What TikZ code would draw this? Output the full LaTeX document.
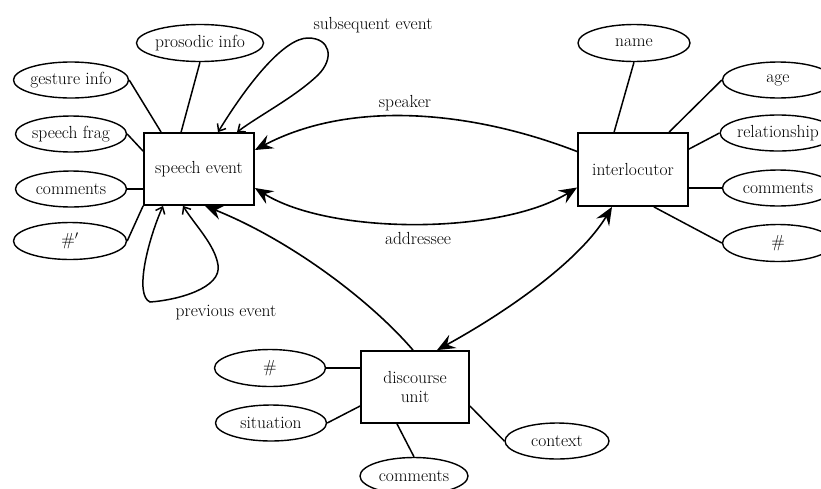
\documentclass[tikz,border=0pt]{standalone}
\usetikzlibrary{arrows.meta,shapes.geometric}
\begin{document}
\begin{tikzpicture}[x=1pt,y=-1pt,
  every node/.style={font=\fontsize{17.5}{19}\selectfont},
  attr/.style={draw, ellipse, line width=1.4pt, minimum width=111pt, minimum height=36pt, inner sep=0pt},
  entity/.style={draw, rectangle, line width=1.8pt, minimum width=110pt, minimum height=72pt, inner sep=0pt, align=center},
  link/.style={line width=1.5pt},
  bighead/.tip={Stealth[length=18pt,width=15pt,inset=6.5pt]},
  smallhead/.tip={Straight Barb[length=6pt,width=10pt]},
  rel/.style={line width=1.6pt, -bighead},
  relboth/.style={line width=1.6pt, bighead-bighead},
  selfloop/.style={line width=1.5pt, smallhead-smallhead},
  lbl/.style={inner sep=0pt}]
\clip (0,0) rectangle (821,488);

% entities
\node[entity] (se) at (199,169) {speech event};
\node[entity, minimum height=73pt] (il) at (633,169.5) {interlocutor};
\node[entity, minimum width=108pt] (du) at (415,387) {discourse\\unit};

% attributes of the speech event
\node[attr, minimum width=114pt, minimum height=37pt] (pi) at (200,43) {prosodic info};
\node[attr] (gi) at (71,80) {gesture info};
\node[attr] (sf) at (71,134) {speech frag};
\node[attr] (cma) at (71,189) {comments};
\node[attr, minimum width=113pt, minimum height=37pt] (hp) at (70,241) {\#$'$};

% attributes of the interlocutor
\node[attr, minimum width=112pt, minimum height=37pt] (nm) at (634,43) {name};
\node[attr] (ag) at (778,80) {age};
\node[attr] (rl) at (778,133) {relationship};
\node[attr] (cmb) at (778,188) {comments};
\node[attr, minimum height=37pt] (hs) at (778,243) {\#};

% attributes of the discourse unit
\node[attr, minimum height=37pt] (hd) at (270,368) {\#};
\node[attr] (st) at (271,423) {situation};
\node[attr, minimum width=108pt, minimum height=37pt] (cmc) at (414,476) {comments};
\node[attr, minimum width=104pt] (cx) at (557,441) {context};

% attribute links
\draw[link] (pi.south) -- ([xshift=38pt]se.north west);
\draw[link] (gi.east) -- ([xshift=18pt]se.north west);
\draw[link] (sf.east) -- ([yshift=-19pt]se.north west);
\draw[link] (cma.east) -- (cma.east -| se.west);
\draw[link] (hp.east) -- (se.south west);

\draw[link] (nm.south) -- ([xshift=37pt]il.north west);
\draw[link] (ag.west) -- ([xshift=92pt]il.north west);
\draw[link] (rl.west) -- ([yshift=-17pt]il.north east);
\draw[link] (cmb.west) -- (cmb.west -| il.east);
\draw[link] (hs.west) -- ([xshift=-35pt]il.south east);

\draw[link] (hd.east) -- (hd.east -| du.west);
\draw[link] (st.east) -- ([yshift=-19pt]du.west);
\draw[link] (cmc.north) -- ([xshift=-18pt]du.south);
\draw[link] (cx.west) -- ([yshift=-19pt]du.east);

% relationships
\draw[rel] ([yshift=18pt]il.west) .. controls (470,110) and (350,100) .. ([yshift=19pt]se.east);
\draw[relboth] ([yshift=-19pt]se.east) .. controls (330,235) and (500,235) .. ([yshift=-18pt]il.west);
\draw[rel] ([xshift=-2pt]du.north) .. controls (370,300) and (290,240) .. ([xshift=6pt]se.south);
\draw[relboth] ([xshift=-21pt]il.south) .. controls (580,260) and (510,310) .. ([xshift=22pt]du.north);

% self relations of the speech event
\draw[selfloop] ([xshift=19pt]se.north) .. controls (250,80) and (285,38) .. (308,38)
  .. controls (330,38) and (335,58) .. (318,75)
  .. controls (295,97) and (260,115) .. ([xshift=38pt]se.north);
\draw[selfloop] ([xshift=-36pt]se.south) .. controls (148,240) and (134,295) .. (150,302)
  .. controls (178,300) and (222,288) .. (218,265)
  .. controls (215,245) and (195,225) .. ([xshift=-16pt]se.south);

% relationship labels
\node[lbl] (lsub) at (373,25) {subsequent event};
\node[lbl] (lspk) at (405,103) {speaker};
\node[lbl] (ladr) at (418,238) {addressee};
\node[lbl] (lprv) at (226,313) {previous event};
\end{tikzpicture}
\end{document}
